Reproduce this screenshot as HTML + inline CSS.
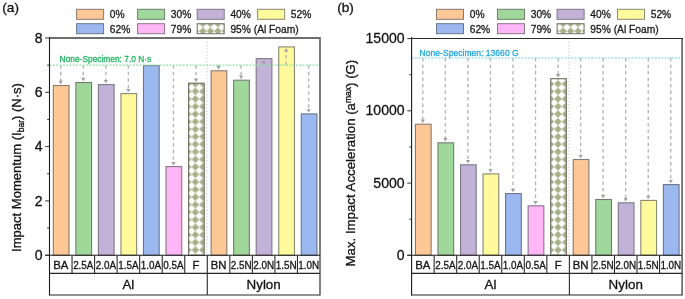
<!DOCTYPE html>
<html><head><meta charset="utf-8"><title>Impact chart</title>
<style>
html,body{margin:0;padding:0;background:#fff;width:685px;height:299px;overflow:hidden;}
svg{display:block;will-change:transform;}
text{font-family:"Liberation Sans",sans-serif;stroke:currentColor;stroke-width:0.3px;}
</style></head>
<body>
<svg width="685" height="299" viewBox="0 0 685 299" font-family="Liberation Sans, sans-serif">
<rect width="685" height="299" fill="#fff"/>
<defs><pattern id="chkA" patternUnits="userSpaceOnUse" width="7.55" height="7.55" x="191.625" y="87.625"><rect width="7.55" height="7.55" fill="#ffffff"/><path d="M3.775 0 L7.55 3.775 L3.775 7.55 L0 3.775 Z" fill="#A8AF89"/></pattern><pattern id="chkB" patternUnits="userSpaceOnUse" width="7.55" height="7.55" x="554.225" y="87.625"><rect width="7.55" height="7.55" fill="#ffffff"/><path d="M3.775 0 L7.55 3.775 L3.775 7.55 L0 3.775 Z" fill="#A8AF89"/></pattern><pattern id="chkLA" patternUnits="userSpaceOnUse" width="7.5" height="7.5" x="199.15" y="27.35"><rect width="7.5" height="7.5" fill="#ffffff"/><path d="M3.75 0 L7.5 3.75 L3.75 7.5 L0 3.75 Z" fill="#A8AF89"/></pattern><pattern id="chkLB" patternUnits="userSpaceOnUse" width="7.5" height="7.5" x="559.35" y="27.35"><rect width="7.5" height="7.5" fill="#ffffff"/><path d="M3.75 0 L7.5 3.75 L3.75 7.5 L0 3.75 Z" fill="#A8AF89"/></pattern></defs>
<rect x="76.6" y="9.3" width="27" height="10" fill="#FDC896" stroke="#857a70" stroke-width="1"/>
<text x="109.8" y="17.75" font-size="10.4" fill="#1a1a1a" color="#1a1a1a" textLength="14.81" lengthAdjust="spacingAndGlyphs">0%</text>
<rect x="137.6" y="9.3" width="27" height="10" fill="#A0D89B" stroke="#6f7d6f" stroke-width="1"/>
<text x="170.8" y="17.75" font-size="10.4" fill="#1a1a1a" color="#1a1a1a" textLength="20.50" lengthAdjust="spacingAndGlyphs">30%</text>
<rect x="197.2" y="9.3" width="27" height="10" fill="#C3B2D7" stroke="#7d7787" stroke-width="1"/>
<text x="230.4" y="17.75" font-size="10.4" fill="#1a1a1a" color="#1a1a1a" textLength="20.50" lengthAdjust="spacingAndGlyphs">40%</text>
<rect x="257.6" y="9.3" width="27" height="10" fill="#FFFA9C" stroke="#8a8872" stroke-width="1"/>
<text x="290.8" y="17.75" font-size="10.4" fill="#1a1a1a" color="#1a1a1a" textLength="20.50" lengthAdjust="spacingAndGlyphs">52%</text>
<rect x="76.6" y="23.7" width="27" height="10" fill="#9BB9F0" stroke="#6b7589" stroke-width="1"/>
<text x="109.8" y="32.9" font-size="10.4" fill="#1a1a1a" color="#1a1a1a" textLength="20.50" lengthAdjust="spacingAndGlyphs">62%</text>
<rect x="137.6" y="23.7" width="27" height="10" fill="#FEB6F7" stroke="#857785" stroke-width="1"/>
<text x="170.8" y="32.9" font-size="10.4" fill="#1a1a1a" color="#1a1a1a" textLength="20.50" lengthAdjust="spacingAndGlyphs">79%</text>
<rect x="197.2" y="23.7" width="27" height="10" fill="url(#chkLA)" stroke="#6f7264" stroke-width="1"/>
<text x="230.4" y="32.9" font-size="10.4" fill="#1a1a1a" color="#1a1a1a" textLength="68.31" lengthAdjust="spacingAndGlyphs">95% (Al Foam)</text>
<line x1="206.942" y1="38.0" x2="206.942" y2="255.2" stroke="#cfcfcf" stroke-width="1.1" stroke-dasharray="1.3 2.0"/>
<rect x="53.321" y="85.5" width="15.7" height="169.7" fill="#FDC896" stroke="#857a70" stroke-width="1.1"/>
<rect x="75.863" y="82.5" width="15.7" height="172.7" fill="#A0D89B" stroke="#6f7d6f" stroke-width="1.1"/>
<rect x="98.404" y="84.6" width="15.7" height="170.6" fill="#C3B2D7" stroke="#7d7787" stroke-width="1.1"/>
<rect x="120.946" y="93.6" width="15.7" height="161.6" fill="#FFFA9C" stroke="#8a8872" stroke-width="1.1"/>
<rect x="143.488" y="65.6" width="15.7" height="189.6" fill="#9BB9F0" stroke="#6b7589" stroke-width="1.1"/>
<rect x="166.029" y="166.6" width="15.7" height="88.6" fill="#FEB6F7" stroke="#857785" stroke-width="1.1"/>
<rect x="188.571" y="83.2" width="15.7" height="172" fill="url(#chkA)" stroke="#6f7264" stroke-width="1.1"/>
<rect x="211.113" y="70.8" width="15.7" height="184.4" fill="#FDC896" stroke="#857a70" stroke-width="1.1"/>
<rect x="233.654" y="80.2" width="15.7" height="175" fill="#A0D89B" stroke="#6f7d6f" stroke-width="1.1"/>
<rect x="256.196" y="58.6" width="15.7" height="196.6" fill="#C3B2D7" stroke="#7d7787" stroke-width="1.1"/>
<rect x="278.737" y="46.9" width="15.7" height="208.3" fill="#FFFA9C" stroke="#8a8872" stroke-width="1.1"/>
<rect x="301.279" y="113.9" width="15.7" height="141.3" fill="#9BB9F0" stroke="#6b7589" stroke-width="1.1"/>
<line x1="60.721" y1="65.15" x2="60.721" y2="81.2" stroke="#b4b4b4" stroke-width="1.35" stroke-dasharray="3.5 3.0"/>
<path d="M58.621 80.8 L60.721 84.2 L62.821 80.8 Z" fill="#9c9c9c"/>
<line x1="83.263" y1="65.15" x2="83.263" y2="78.2" stroke="#b4b4b4" stroke-width="1.35" stroke-dasharray="3.5 3.0"/>
<path d="M81.163 77.8 L83.263 81.2 L85.362 77.8 Z" fill="#9c9c9c"/>
<line x1="105.804" y1="65.15" x2="105.804" y2="80.3" stroke="#b4b4b4" stroke-width="1.35" stroke-dasharray="3.5 3.0"/>
<path d="M103.704 79.9 L105.804 83.3 L107.904 79.9 Z" fill="#9c9c9c"/>
<line x1="128.346" y1="65.15" x2="128.346" y2="89.3" stroke="#b4b4b4" stroke-width="1.35" stroke-dasharray="3.5 3.0"/>
<path d="M126.246 88.9 L128.346 92.3 L130.446 88.9 Z" fill="#9c9c9c"/>
<line x1="173.429" y1="65.15" x2="173.429" y2="162.3" stroke="#b4b4b4" stroke-width="1.35" stroke-dasharray="3.5 3.0"/>
<path d="M171.329 161.9 L173.429 165.3 L175.529 161.9 Z" fill="#9c9c9c"/>
<line x1="195.971" y1="65.15" x2="195.971" y2="78.9" stroke="#b4b4b4" stroke-width="1.35" stroke-dasharray="3.5 3.0"/>
<path d="M193.871 78.5 L195.971 81.9 L198.071 78.5 Z" fill="#9c9c9c"/>
<line x1="218.512" y1="65.15" x2="218.512" y2="66.5" stroke="#b4b4b4" stroke-width="1.35" stroke-dasharray="3.5 3.0"/>
<path d="M216.412 66.1 L218.512 69.5 L220.612 66.1 Z" fill="#9c9c9c"/>
<line x1="241.054" y1="65.15" x2="241.054" y2="75.9" stroke="#b4b4b4" stroke-width="1.35" stroke-dasharray="3.5 3.0"/>
<path d="M238.954 75.5 L241.054 78.9 L243.154 75.5 Z" fill="#9c9c9c"/>
<line x1="263.596" y1="65.15" x2="263.596" y2="62.9" stroke="#b4b4b4" stroke-width="1.35" stroke-dasharray="3.5 3.0"/>
<path d="M261.496 63.3 L263.596 59.9 L265.696 63.3 Z" fill="#9c9c9c"/>
<line x1="286.137" y1="65.15" x2="286.137" y2="51.2" stroke="#b4b4b4" stroke-width="1.35" stroke-dasharray="3.5 3.0"/>
<path d="M284.037 51.6 L286.137 48.2 L288.238 51.6 Z" fill="#9c9c9c"/>
<line x1="308.679" y1="65.15" x2="308.679" y2="109.6" stroke="#b4b4b4" stroke-width="1.35" stroke-dasharray="3.5 3.0"/>
<path d="M306.579 109.2 L308.679 112.6 L310.779 109.2 Z" fill="#9c9c9c"/>
<line x1="49.5" y1="65.15" x2="320" y2="65.15" stroke="#8ddfa6" stroke-width="1.1" stroke-dasharray="1.9 1.43"/>
<text x="59.6" y="62" font-size="9.6" fill="#1cb85c" color="#1cb85c" textLength="91.66" lengthAdjust="spacingAndGlyphs">None-Specimen: 7.0 N·s</text>
<path d="M49.5 38.0 H320 V255.2" fill="none" stroke="#6e6e6e" stroke-width="1.8"/>
<line x1="49.5" y1="37.1" x2="49.5" y2="295.5" stroke="#1a1a1a" stroke-width="1.1"/>
<line x1="45.2" y1="255.2" x2="320" y2="255.2" stroke="#1a1a1a" stroke-width="1.1"/>
<line x1="45.2" y1="38" x2="49.5" y2="38" stroke="#333" stroke-width="1"/>
<text x="42.5" y="42.6" font-size="14.8" fill="#111" color="#111" text-anchor="end" textLength="7.82" lengthAdjust="spacingAndGlyphs">8</text>
<line x1="45.2" y1="92.3" x2="49.5" y2="92.3" stroke="#333" stroke-width="1"/>
<text x="42.5" y="96.9" font-size="14.8" fill="#111" color="#111" text-anchor="end" textLength="7.82" lengthAdjust="spacingAndGlyphs">6</text>
<line x1="45.2" y1="146.6" x2="49.5" y2="146.6" stroke="#333" stroke-width="1"/>
<text x="42.5" y="151.2" font-size="14.8" fill="#111" color="#111" text-anchor="end" textLength="7.82" lengthAdjust="spacingAndGlyphs">4</text>
<line x1="45.2" y1="200.9" x2="49.5" y2="200.9" stroke="#333" stroke-width="1"/>
<text x="42.5" y="205.5" font-size="14.8" fill="#111" color="#111" text-anchor="end" textLength="7.82" lengthAdjust="spacingAndGlyphs">2</text>
<line x1="45.2" y1="255.2" x2="49.5" y2="255.2" stroke="#333" stroke-width="1"/>
<text x="42.5" y="259.8" font-size="14.8" fill="#111" color="#111" text-anchor="end" textLength="7.82" lengthAdjust="spacingAndGlyphs">0</text>
<line x1="47.2" y1="65.15" x2="49.5" y2="65.15" stroke="#333" stroke-width="1"/>
<line x1="47.2" y1="119.45" x2="49.5" y2="119.45" stroke="#333" stroke-width="1"/>
<line x1="47.2" y1="173.75" x2="49.5" y2="173.75" stroke="#333" stroke-width="1"/>
<line x1="47.2" y1="228.05" x2="49.5" y2="228.05" stroke="#333" stroke-width="1"/>
<path d="M49.5 273.3 H320 M49.5 295 H320 V255.2" fill="none" stroke="#262626" stroke-width="1.15"/>
<line x1="72.042" y1="255.2" x2="72.042" y2="273.3" stroke="#2a2a2a" stroke-width="1.1"/>
<line x1="94.583" y1="255.2" x2="94.583" y2="273.3" stroke="#2a2a2a" stroke-width="1.1"/>
<line x1="117.125" y1="255.2" x2="117.125" y2="273.3" stroke="#2a2a2a" stroke-width="1.1"/>
<line x1="139.667" y1="255.2" x2="139.667" y2="273.3" stroke="#2a2a2a" stroke-width="1.1"/>
<line x1="162.208" y1="255.2" x2="162.208" y2="273.3" stroke="#2a2a2a" stroke-width="1.1"/>
<line x1="184.75" y1="255.2" x2="184.75" y2="273.3" stroke="#2a2a2a" stroke-width="1.1"/>
<line x1="207.292" y1="255.2" x2="207.292" y2="295" stroke="#2a2a2a" stroke-width="1.1"/>
<line x1="229.833" y1="255.2" x2="229.833" y2="273.3" stroke="#2a2a2a" stroke-width="1.1"/>
<line x1="252.375" y1="255.2" x2="252.375" y2="273.3" stroke="#2a2a2a" stroke-width="1.1"/>
<line x1="274.917" y1="255.2" x2="274.917" y2="273.3" stroke="#2a2a2a" stroke-width="1.1"/>
<line x1="297.458" y1="255.2" x2="297.458" y2="273.3" stroke="#2a2a2a" stroke-width="1.1"/>
<text x="60.771" y="268.5" font-size="11.5" fill="#111" color="#111" text-anchor="middle" textLength="15.19" lengthAdjust="spacingAndGlyphs">BA</text>
<text x="83.312" y="268.5" font-size="11.5" fill="#111" color="#111" text-anchor="middle" textLength="20.35" lengthAdjust="spacingAndGlyphs">2.5A</text>
<text x="105.854" y="268.5" font-size="11.5" fill="#111" color="#111" text-anchor="middle" textLength="20.35" lengthAdjust="spacingAndGlyphs">2.0A</text>
<text x="128.396" y="268.5" font-size="11.5" fill="#111" color="#111" text-anchor="middle" textLength="20.35" lengthAdjust="spacingAndGlyphs">1.5A</text>
<text x="150.938" y="268.5" font-size="11.5" fill="#111" color="#111" text-anchor="middle" textLength="20.35" lengthAdjust="spacingAndGlyphs">1.0A</text>
<text x="173.479" y="268.5" font-size="11.5" fill="#111" color="#111" text-anchor="middle" textLength="20.35" lengthAdjust="spacingAndGlyphs">0.5A</text>
<text x="196.021" y="268.5" font-size="11.5" fill="#111" color="#111" text-anchor="middle" textLength="6.95" lengthAdjust="spacingAndGlyphs">F</text>
<text x="218.562" y="268.5" font-size="11.5" fill="#111" color="#111" text-anchor="middle" textLength="15.82" lengthAdjust="spacingAndGlyphs">BN</text>
<text x="241.104" y="268.5" font-size="11.5" fill="#111" color="#111" text-anchor="middle" textLength="20.89" lengthAdjust="spacingAndGlyphs">2.5N</text>
<text x="263.646" y="268.5" font-size="11.5" fill="#111" color="#111" text-anchor="middle" textLength="20.89" lengthAdjust="spacingAndGlyphs">2.0N</text>
<text x="286.188" y="268.5" font-size="11.5" fill="#111" color="#111" text-anchor="middle" textLength="20.89" lengthAdjust="spacingAndGlyphs">1.5N</text>
<text x="308.729" y="268.5" font-size="11.5" fill="#111" color="#111" text-anchor="middle" textLength="20.89" lengthAdjust="spacingAndGlyphs">1.0N</text>
<text x="128.396" y="289" font-size="13.3" text-anchor="middle" fill="#111" color="#111">Al</text>
<text x="263.646" y="289.1" font-size="13.4" text-anchor="middle" fill="#111" color="#111">Nylon</text>
<text transform="translate(21.4 167.5) rotate(-90)" font-size="13.05" text-anchor="middle" fill="#111" color="#111">Impact Momentum (I<tspan font-size="8.5" dy="2.5">bar</tspan><tspan dy="-2.5">) (N·s)</tspan></text>
<text x="2.3" y="11.9" font-size="13.6" fill="#111" color="#111">(a)</text>
<rect x="436.5" y="9.3" width="27" height="10" fill="#FDC896" stroke="#857a70" stroke-width="1"/>
<text x="469.7" y="17.75" font-size="10.4" fill="#1a1a1a" color="#1a1a1a" textLength="14.81" lengthAdjust="spacingAndGlyphs">0%</text>
<rect x="497.5" y="9.3" width="27" height="10" fill="#A0D89B" stroke="#6f7d6f" stroke-width="1"/>
<text x="530.7" y="17.75" font-size="10.4" fill="#1a1a1a" color="#1a1a1a" textLength="20.50" lengthAdjust="spacingAndGlyphs">30%</text>
<rect x="557.1" y="9.3" width="27" height="10" fill="#C3B2D7" stroke="#7d7787" stroke-width="1"/>
<text x="590.3" y="17.75" font-size="10.4" fill="#1a1a1a" color="#1a1a1a" textLength="20.50" lengthAdjust="spacingAndGlyphs">40%</text>
<rect x="617.5" y="9.3" width="27" height="10" fill="#FFFA9C" stroke="#8a8872" stroke-width="1"/>
<text x="650.7" y="17.75" font-size="10.4" fill="#1a1a1a" color="#1a1a1a" textLength="20.50" lengthAdjust="spacingAndGlyphs">52%</text>
<rect x="436.5" y="23.7" width="27" height="10" fill="#9BB9F0" stroke="#6b7589" stroke-width="1"/>
<text x="469.7" y="32.9" font-size="10.4" fill="#1a1a1a" color="#1a1a1a" textLength="20.50" lengthAdjust="spacingAndGlyphs">62%</text>
<rect x="497.5" y="23.7" width="27" height="10" fill="#FEB6F7" stroke="#857785" stroke-width="1"/>
<text x="530.7" y="32.9" font-size="10.4" fill="#1a1a1a" color="#1a1a1a" textLength="20.50" lengthAdjust="spacingAndGlyphs">79%</text>
<rect x="557.1" y="23.7" width="27" height="10" fill="url(#chkLB)" stroke="#6f7264" stroke-width="1"/>
<text x="590.3" y="32.9" font-size="10.4" fill="#1a1a1a" color="#1a1a1a" textLength="68.31" lengthAdjust="spacingAndGlyphs">95% (Al Foam)</text>
<line x1="569.042" y1="38.0" x2="569.042" y2="255.2" stroke="#cfcfcf" stroke-width="1.1" stroke-dasharray="1.3 2.0"/>
<rect x="415.421" y="124.2" width="15.7" height="131" fill="#FDC896" stroke="#857a70" stroke-width="1.1"/>
<rect x="437.962" y="142.8" width="15.7" height="112.4" fill="#A0D89B" stroke="#6f7d6f" stroke-width="1.1"/>
<rect x="460.504" y="164.8" width="15.7" height="90.4" fill="#C3B2D7" stroke="#7d7787" stroke-width="1.1"/>
<rect x="483.046" y="173.9" width="15.7" height="81.3" fill="#FFFA9C" stroke="#8a8872" stroke-width="1.1"/>
<rect x="505.587" y="193.6" width="15.7" height="61.6" fill="#9BB9F0" stroke="#6b7589" stroke-width="1.1"/>
<rect x="528.129" y="205.8" width="15.7" height="49.4" fill="#FEB6F7" stroke="#857785" stroke-width="1.1"/>
<rect x="550.671" y="78.7" width="15.7" height="176.5" fill="url(#chkB)" stroke="#6f7264" stroke-width="1.1"/>
<rect x="573.212" y="159.5" width="15.7" height="95.7" fill="#FDC896" stroke="#857a70" stroke-width="1.1"/>
<rect x="595.754" y="199.5" width="15.7" height="55.7" fill="#A0D89B" stroke="#6f7d6f" stroke-width="1.1"/>
<rect x="618.296" y="202.8" width="15.7" height="52.4" fill="#C3B2D7" stroke="#7d7787" stroke-width="1.1"/>
<rect x="640.837" y="200.4" width="15.7" height="54.8" fill="#FFFA9C" stroke="#8a8872" stroke-width="1.1"/>
<rect x="663.379" y="184.6" width="15.7" height="70.6" fill="#9BB9F0" stroke="#6b7589" stroke-width="1.1"/>
<line x1="422.821" y1="57.959" x2="422.821" y2="119.9" stroke="#b4b4b4" stroke-width="1.35" stroke-dasharray="3.5 3.0"/>
<path d="M420.721 119.5 L422.821 122.9 L424.921 119.5 Z" fill="#9c9c9c"/>
<line x1="445.363" y1="57.959" x2="445.363" y2="138.5" stroke="#b4b4b4" stroke-width="1.35" stroke-dasharray="3.5 3.0"/>
<path d="M443.262 138.1 L445.363 141.5 L447.463 138.1 Z" fill="#9c9c9c"/>
<line x1="467.904" y1="57.959" x2="467.904" y2="160.5" stroke="#b4b4b4" stroke-width="1.35" stroke-dasharray="3.5 3.0"/>
<path d="M465.804 160.1 L467.904 163.5 L470.004 160.1 Z" fill="#9c9c9c"/>
<line x1="490.446" y1="57.959" x2="490.446" y2="169.6" stroke="#b4b4b4" stroke-width="1.35" stroke-dasharray="3.5 3.0"/>
<path d="M488.346 169.2 L490.446 172.6 L492.546 169.2 Z" fill="#9c9c9c"/>
<line x1="512.988" y1="57.959" x2="512.988" y2="189.3" stroke="#b4b4b4" stroke-width="1.35" stroke-dasharray="3.5 3.0"/>
<path d="M510.888 188.9 L512.988 192.3 L515.088 188.9 Z" fill="#9c9c9c"/>
<line x1="535.529" y1="57.959" x2="535.529" y2="201.5" stroke="#b4b4b4" stroke-width="1.35" stroke-dasharray="3.5 3.0"/>
<path d="M533.429 201.1 L535.529 204.5 L537.629 201.1 Z" fill="#9c9c9c"/>
<line x1="558.071" y1="57.959" x2="558.071" y2="74.4" stroke="#b4b4b4" stroke-width="1.35" stroke-dasharray="3.5 3.0"/>
<path d="M555.971 74 L558.071 77.4 L560.171 74 Z" fill="#9c9c9c"/>
<line x1="580.613" y1="57.959" x2="580.613" y2="155.2" stroke="#b4b4b4" stroke-width="1.35" stroke-dasharray="3.5 3.0"/>
<path d="M578.513 154.8 L580.613 158.2 L582.713 154.8 Z" fill="#9c9c9c"/>
<line x1="603.154" y1="57.959" x2="603.154" y2="195.2" stroke="#b4b4b4" stroke-width="1.35" stroke-dasharray="3.5 3.0"/>
<path d="M601.054 194.8 L603.154 198.2 L605.254 194.8 Z" fill="#9c9c9c"/>
<line x1="625.696" y1="57.959" x2="625.696" y2="198.5" stroke="#b4b4b4" stroke-width="1.35" stroke-dasharray="3.5 3.0"/>
<path d="M623.596 198.1 L625.696 201.5 L627.796 198.1 Z" fill="#9c9c9c"/>
<line x1="648.238" y1="57.959" x2="648.238" y2="196.1" stroke="#b4b4b4" stroke-width="1.35" stroke-dasharray="3.5 3.0"/>
<path d="M646.138 195.7 L648.238 199.1 L650.338 195.7 Z" fill="#9c9c9c"/>
<line x1="670.779" y1="57.959" x2="670.779" y2="180.3" stroke="#b4b4b4" stroke-width="1.35" stroke-dasharray="3.5 3.0"/>
<path d="M668.679 179.9 L670.779 183.3 L672.879 179.9 Z" fill="#9c9c9c"/>
<line x1="411.6" y1="57.959" x2="682.1" y2="57.959" stroke="#6ccdf2" stroke-width="1.1" stroke-dasharray="1.9 1.43"/>
<text x="419.6" y="55.7" font-size="9.6" fill="#1fa9e0" color="#1fa9e0" textLength="99.12" lengthAdjust="spacingAndGlyphs">None-Specimen: 13660 G</text>
<path d="M682.1 38.5 V255.2" fill="none" stroke="#6e6e6e" stroke-width="1.8"/>
<path d="M411.6 38.5 H683" fill="none" stroke="#2a2a2a" stroke-width="1.1"/>
<line x1="411.6" y1="37.1" x2="411.6" y2="295.5" stroke="#1a1a1a" stroke-width="1.1"/>
<line x1="407.3" y1="255.2" x2="682.1" y2="255.2" stroke="#1a1a1a" stroke-width="1.1"/>
<line x1="407.3" y1="38.6" x2="411.6" y2="38.6" stroke="#333" stroke-width="1"/>
<text x="404.6" y="43.2" font-size="14.8" fill="#111" color="#111" text-anchor="end" textLength="39.10" lengthAdjust="spacingAndGlyphs">15000</text>
<line x1="407.3" y1="110.833" x2="411.6" y2="110.833" stroke="#333" stroke-width="1"/>
<text x="404.6" y="115.433" font-size="14.8" fill="#111" color="#111" text-anchor="end" textLength="39.10" lengthAdjust="spacingAndGlyphs">10000</text>
<line x1="407.3" y1="183.067" x2="411.6" y2="183.067" stroke="#333" stroke-width="1"/>
<text x="404.6" y="187.667" font-size="14.8" fill="#111" color="#111" text-anchor="end" textLength="31.28" lengthAdjust="spacingAndGlyphs">5000</text>
<line x1="407.3" y1="255.3" x2="411.6" y2="255.3" stroke="#333" stroke-width="1"/>
<text x="404.6" y="259.9" font-size="14.8" fill="#111" color="#111" text-anchor="end" textLength="7.82" lengthAdjust="spacingAndGlyphs">0</text>
<line x1="409.3" y1="74.717" x2="411.6" y2="74.717" stroke="#333" stroke-width="1"/>
<line x1="409.3" y1="146.95" x2="411.6" y2="146.95" stroke="#333" stroke-width="1"/>
<line x1="409.3" y1="219.183" x2="411.6" y2="219.183" stroke="#333" stroke-width="1"/>
<path d="M411.6 273.3 H682.1 M411.6 295 H682.1 V255.2" fill="none" stroke="#262626" stroke-width="1.15"/>
<line x1="434.142" y1="255.2" x2="434.142" y2="273.3" stroke="#2a2a2a" stroke-width="1.1"/>
<line x1="456.683" y1="255.2" x2="456.683" y2="273.3" stroke="#2a2a2a" stroke-width="1.1"/>
<line x1="479.225" y1="255.2" x2="479.225" y2="273.3" stroke="#2a2a2a" stroke-width="1.1"/>
<line x1="501.767" y1="255.2" x2="501.767" y2="273.3" stroke="#2a2a2a" stroke-width="1.1"/>
<line x1="524.308" y1="255.2" x2="524.308" y2="273.3" stroke="#2a2a2a" stroke-width="1.1"/>
<line x1="546.85" y1="255.2" x2="546.85" y2="273.3" stroke="#2a2a2a" stroke-width="1.1"/>
<line x1="569.392" y1="255.2" x2="569.392" y2="295" stroke="#2a2a2a" stroke-width="1.1"/>
<line x1="591.933" y1="255.2" x2="591.933" y2="273.3" stroke="#2a2a2a" stroke-width="1.1"/>
<line x1="614.475" y1="255.2" x2="614.475" y2="273.3" stroke="#2a2a2a" stroke-width="1.1"/>
<line x1="637.017" y1="255.2" x2="637.017" y2="273.3" stroke="#2a2a2a" stroke-width="1.1"/>
<line x1="659.558" y1="255.2" x2="659.558" y2="273.3" stroke="#2a2a2a" stroke-width="1.1"/>
<text x="422.871" y="268.5" font-size="11.5" fill="#111" color="#111" text-anchor="middle" textLength="15.19" lengthAdjust="spacingAndGlyphs">BA</text>
<text x="445.413" y="268.5" font-size="11.5" fill="#111" color="#111" text-anchor="middle" textLength="20.35" lengthAdjust="spacingAndGlyphs">2.5A</text>
<text x="467.954" y="268.5" font-size="11.5" fill="#111" color="#111" text-anchor="middle" textLength="20.35" lengthAdjust="spacingAndGlyphs">2.0A</text>
<text x="490.496" y="268.5" font-size="11.5" fill="#111" color="#111" text-anchor="middle" textLength="20.35" lengthAdjust="spacingAndGlyphs">1.5A</text>
<text x="513.038" y="268.5" font-size="11.5" fill="#111" color="#111" text-anchor="middle" textLength="20.35" lengthAdjust="spacingAndGlyphs">1.0A</text>
<text x="535.579" y="268.5" font-size="11.5" fill="#111" color="#111" text-anchor="middle" textLength="20.35" lengthAdjust="spacingAndGlyphs">0.5A</text>
<text x="558.121" y="268.5" font-size="11.5" fill="#111" color="#111" text-anchor="middle" textLength="6.95" lengthAdjust="spacingAndGlyphs">F</text>
<text x="580.663" y="268.5" font-size="11.5" fill="#111" color="#111" text-anchor="middle" textLength="15.82" lengthAdjust="spacingAndGlyphs">BN</text>
<text x="603.204" y="268.5" font-size="11.5" fill="#111" color="#111" text-anchor="middle" textLength="20.89" lengthAdjust="spacingAndGlyphs">2.5N</text>
<text x="625.746" y="268.5" font-size="11.5" fill="#111" color="#111" text-anchor="middle" textLength="20.89" lengthAdjust="spacingAndGlyphs">2.0N</text>
<text x="648.288" y="268.5" font-size="11.5" fill="#111" color="#111" text-anchor="middle" textLength="20.89" lengthAdjust="spacingAndGlyphs">1.5N</text>
<text x="670.829" y="268.5" font-size="11.5" fill="#111" color="#111" text-anchor="middle" textLength="20.89" lengthAdjust="spacingAndGlyphs">1.0N</text>
<text x="490.496" y="289" font-size="13.3" text-anchor="middle" fill="#111" color="#111">Al</text>
<text x="625.746" y="289.1" font-size="13.4" text-anchor="middle" fill="#111" color="#111">Nylon</text>
<text transform="translate(355.2 163.1) rotate(-90)" font-size="13.25" text-anchor="middle" fill="#111" color="#111">Max. Impact Acceleration (a<tspan font-size="8.5" dy="-4.5">max</tspan><tspan dy="4.5">) (G)</tspan></text>
<text x="337.2" y="11.9" font-size="13.6" fill="#111" color="#111">(b)</text>
</svg>
</body></html>
